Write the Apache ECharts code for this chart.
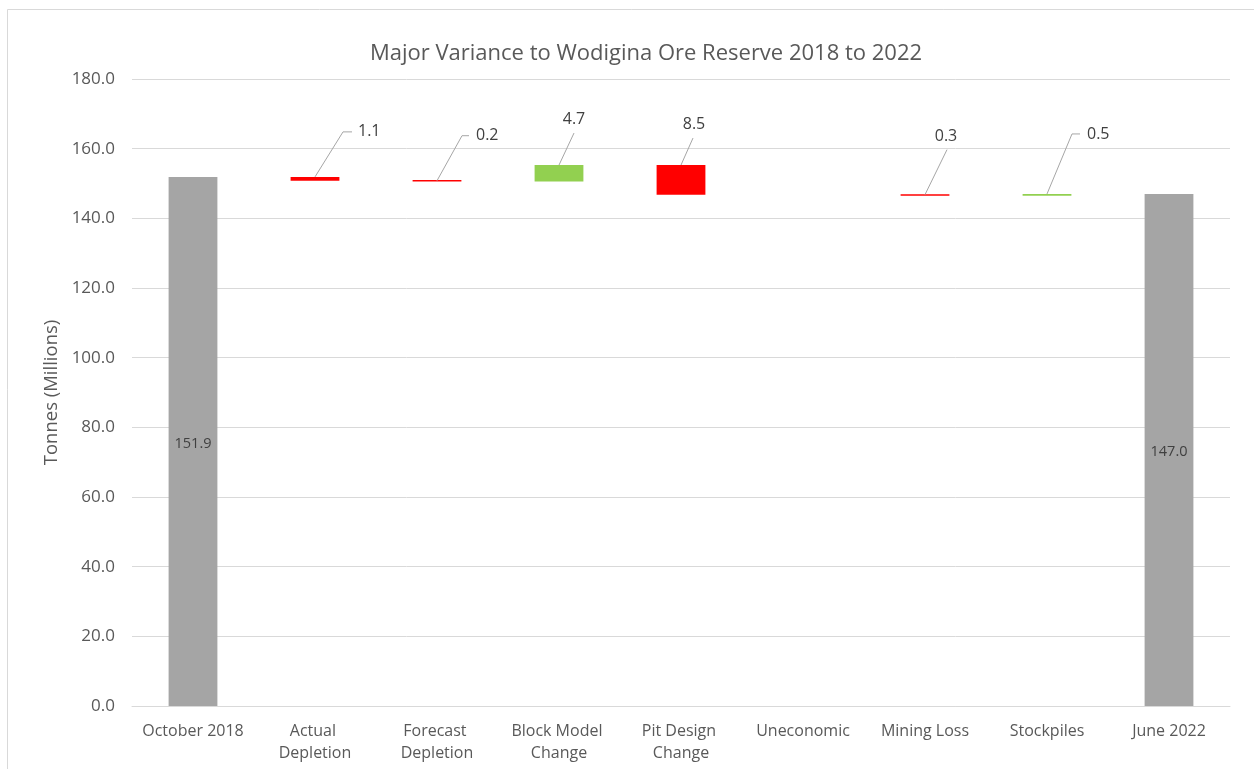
<!DOCTYPE html>
<html>
<head>
<meta charset="utf-8">
<script src="https://cdn.jsdelivr.net/npm/echarts@6/dist/echarts.min.js"></script>
<style>
html,body{margin:0;padding:0;background:#fff;}
#chart{width:1254px;height:769px;}
</style>
</head>
<body>
<div id="chart"></div>
<script>
// ---- data ----
const categories = ['October 2018', 'Actual Depletion', 'Forecast Depletion', 'Block Model Change', 'Pit Design Change', 'Uneconomic', 'Mining Loss', 'Stockpiles', 'June 2022'];
const startTotal = 151.9;
const changes = [-1.1, -0.2, 4.7, -8.5, 0, -0.3, 0.5]; // Actual Depletion .. Stockpiles
const endTotal = 147.0;
const yTicks = { min: 0, max: 180, interval: 20 };
const chartTitle = 'Major Variance to Wodigina Ore Reserve 2018 to 2022';
const yAxisTitle = 'Tonnes (Millions)';

// ---- build waterfall stacks ----
const base = [0];
const totals = [startTotal];
const decreases = ['-'];
const increases = ['-'];
const callouts = []; // [categoryIndex, barTopValue, labelValue]
let running = startTotal;
changes.forEach(function (c, i) {
  totals.push('-');
  if (c < 0) {
    callouts.push([i + 1, running, -c]);
    running = +(running + c).toFixed(4);
    base.push(running);
    decreases.push(-c);
    increases.push('-');
  } else if (c > 0) {
    base.push(running);
    increases.push(c);
    decreases.push('-');
    running = +(running + c).toFixed(4);
    callouts.push([i + 1, running, c]);
  } else {
    base.push(running);
    increases.push('-');
    decreases.push('-');
  }
});
base.push(0);
totals.push(endTotal);
decreases.push('-');
increases.push('-');

// callout leader-line geometry (pixel offsets from bar top centre), keyed by category index
const calloutGeom = {
  1: { pts: [[28, -45], [37, -45]], t: [43, -45], a: 'left' },
  2: { pts: [[25, -45], [32, -45]], t: [39, -45], a: 'left' },
  3: { pts: [[15, -32]], t: [15, -46], a: 'center' },
  4: { pts: [[12, -27]], t: [13, -41], a: 'center' },
  6: { pts: [[22, -45]], t: [21, -58], a: 'center' },
  7: { pts: [[25, -60], [33, -60]], t: [40, -60], a: 'left' }
};

const FONT = 'Open Sans';
const chart = echarts.init(document.getElementById('chart'));
chart.setOption({
  backgroundColor: '#fff',
  animation: false,
  title: {
    text: chartTitle, left: 641, top: 38, textAlign: 'center',
    textStyle: { color: '#595959', fontSize: 22, fontWeight: 'normal', fontFamily: FONT }
  },
  graphic: [{
    type: 'rect', shape: { x: 7.5, y: 9.5, width: 1300, height: 800 }, silent: true,
    style: { fill: 'none', stroke: '#d9d9d9', lineWidth: 1 }
  }],
  grid: { left: 132, right: 24, top: 79, bottom: 63 },
  xAxis: {
    type: 'category', data: categories,
    axisLine: { lineStyle: { color: '#d9d9d9' } },
    axisTick: { show: false },
    axisLabel: {
      color: '#595959', fontSize: 16, fontFamily: FONT, margin: 14, lineHeight: 22,
      width: 112, overflow: 'break', interval: 0
    }
  },
  yAxis: {
    type: 'value', min: yTicks.min, max: yTicks.max, interval: yTicks.interval,
    name: yAxisTitle, nameLocation: 'middle', nameGap: 64,
    nameTextStyle: { color: '#595959', fontSize: 18.5, fontFamily: FONT },
    axisLine: { show: false }, axisTick: { show: false },
    axisLabel: { color: '#595959', fontSize: 17, fontFamily: FONT, margin: 17,
      formatter: function (v) { return v.toFixed(1); } },
    splitLine: { lineStyle: { color: '#d9d9d9' } }
  },
  series: [
    { name: 'base', type: 'bar', stack: 'w', data: base, barWidth: '40%',
      itemStyle: { color: 'transparent' }, silent: true },
    { name: 'total', type: 'bar', stack: 'w', data: totals,
      itemStyle: { color: '#a5a5a5' },
      label: { show: true, position: 'inside', offset: [0, 2], color: '#404040', fontSize: 14.5, fontFamily: FONT,
        formatter: function (p) { return (+p.value).toFixed(1); } } },
    { name: 'decrease', type: 'bar', stack: 'w', data: decreases, barMinHeight: 1.5,
      itemStyle: { color: '#ff0000' } },
    { name: 'increase', type: 'bar', stack: 'w', data: increases, barMinHeight: 1.5,
      itemStyle: { color: '#92d050' } },
    { name: 'callouts', type: 'custom', data: callouts, silent: true, z: 5,
      renderItem: function (params, api) {
        const idx = api.value(0);
        const p = api.coord([idx, api.value(1)]);
        const g = calloutGeom[idx];
        const pts = [[p[0], p[1]]].concat(g.pts.map(function (o) { return [p[0] + o[0], p[1] + o[1]]; }));
        return {
          type: 'group',
          children: [
            { type: 'polyline', shape: { points: pts },
              style: { stroke: '#a6a6a6', lineWidth: 1, fill: null } },
            { type: 'text',
              style: { text: (+api.value(2)).toFixed(1), x: p[0] + g.t[0], y: p[1] + g.t[1],
                fill: '#404040', font: '16px "' + FONT + '"',
                align: g.a, verticalAlign: 'middle' } }
          ]
        };
      }
    }
  ]
});
</script>
</body>
</html>
